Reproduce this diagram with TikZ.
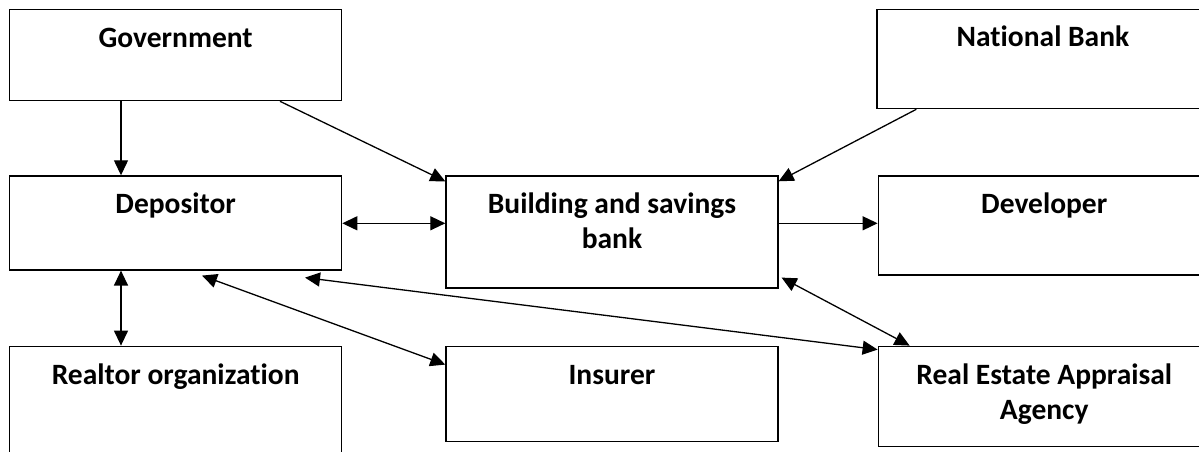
\documentclass[tikz,border=0pt]{standalone}
\usepackage{fontspec}
\setmainfont{Carlito}[Ligatures=NoCommon]
\usepackage{tikz}
\usetikzlibrary{positioning}
\usetikzlibrary{arrows.meta}
\tikzstyle{arrow} = [line width=1.3pt,-{Triangle[length=15pt,width=14pt]}]
\tikzstyle{twoway} = [line width=1.3pt,{Triangle[length=15pt,width=14pt]}-{Triangle[length=15pt,width=14pt]}]

\begin{document}
\begin{tikzpicture}[
    x = 1pt, y = 1pt,
    font = \fontsize{29.5}{35}\selectfont\bfseries,
    box/.style = {draw, line width=1.3pt, rectangle, minimum width=332pt, inner sep=0pt},
    title/.style = {anchor=base, align=center, inner sep=0pt}
  ]
  \useasboundingbox (0,0) rectangle (1199,-452);

  % boxes
  \node[box, minimum height=91pt, anchor=north west] (gov) at (9,-9) {};
  \node[box, minimum height=94pt, below=74pt of gov] (dep) {};
  \node[box, minimum height=130pt, below=75pt of dep] (realtor) {};
  \node[box, minimum height=112pt, right=103pt of dep.north east, anchor=north west] (bank) {};
  \node[box, minimum height=95pt, below=57pt of bank] (ins) {};
  \node[box, minimum height=99pt, right=534pt of gov.north east, anchor=north west] (nb) {};
  \node[box, minimum height=99pt, right=99pt of bank.north east, anchor=north west] (dev) {};
  \node[box, minimum height=100pt, right=99pt of ins.north east, anchor=north west] (rea) {};

  % titles (base = last line)
  \node[title] at ([yshift=-39pt]gov.north) {Government};
  \node[title] at ([yshift=-38pt]dep.north) {Depositor};
  \node[title] at ([yshift=-39pt]realtor.north) {Realtor organization};
  \node[title] at ([yshift=-73pt]bank.north) {Building and savings\\bank};
  \node[title] at ([yshift=-39pt]ins.north) {Insurer};
  \node[title] at ([yshift=-38pt]nb.north) {National Bank};
  \node[title] at ([yshift=-38pt]dev.north) {Developer};
  \node[title] at ([yshift=-74pt]rea.north) {Real Estate Appraisal\\Agency};

  % connectors
  \draw[arrow] ([xshift=112pt]gov.south west) -- ([xshift=112pt]dep.north west);
  \draw[arrow] ([xshift=271pt]gov.south west) -- ([yshift=-6pt]bank.north west);
  \draw[arrow] ([xshift=40pt]nb.south west) -- ([yshift=-6pt]bank.north east);
  \draw[twoway] ([yshift=-48pt]dep.north east) -- ([yshift=-48pt]bank.north west);
  \draw[arrow] ([yshift=-48pt]bank.north east) -- ([yshift=-48pt]dev.north west);
  \draw[twoway] ([xshift=112pt]dep.south west) -- ([xshift=112pt]realtor.north west);
  \draw[twoway] ([xshift=193pt,yshift=-5pt]dep.south west) -- ([yshift=-19pt]ins.north west);
  \draw[twoway] ([xshift=296pt,yshift=-7pt]dep.south west) -- ([yshift=-4pt]rea.north west);
  \draw[twoway] ([xshift=3pt,yshift=11pt]bank.south east) -- ([xshift=32pt]rea.north west);
\end{tikzpicture}
\end{document}
